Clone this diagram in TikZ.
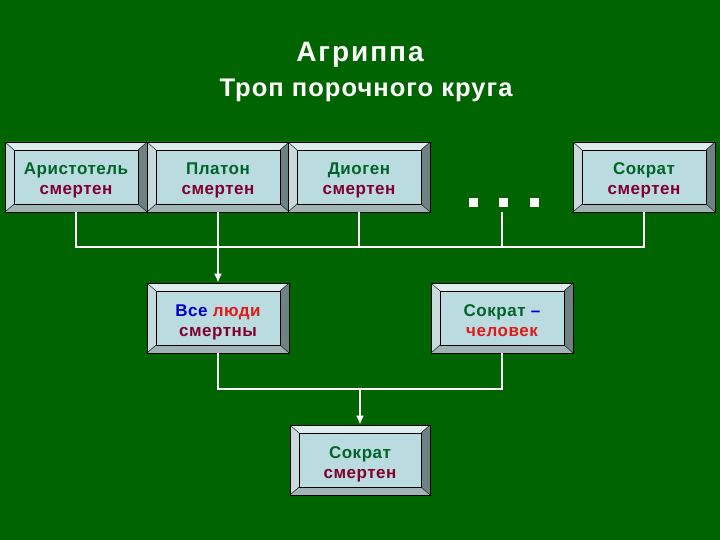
\documentclass[tikz,border=0pt]{standalone}
\usepackage{fontspec}
\setmainfont{Liberation Sans}
\usepackage{tikz}
\usetikzlibrary{arrows.meta}

\definecolor{bgreen}{RGB}{0,100,0}
\definecolor{namegreen}{RGB}{0,100,40}
\definecolor{mortal}{RGB}{128,0,48}
\definecolor{allblue}{RGB}{0,0,200}
\definecolor{peoplered}{RGB}{225,25,25}
\definecolor{faceinner}{RGB}{186,220,224}
\definecolor{facetop}{RGB}{222,236,238}
\definecolor{faceleft}{RGB}{200,218,220}
\definecolor{faceright}{RGB}{110,130,132}
\definecolor{facebottom}{RGB}{160,180,182}

% two lines of a box, with fixed top and bottom
\newcommand{\twolines}[2]{\rule{0pt}{20pt}#1\\#2\rule[-4pt]{0pt}{4pt}}

\tikzset{
    bevelbox/.style={draw=black, line width=0.7pt, fill=faceinner,
        minimum width=142pt, minimum height=70pt, inner sep=0pt,
        align=center, font=\bfseries\fontsize{17}{20}\selectfont\addfontfeatures{LetterSpace=3},
        path picture={
            \coordinate (nw) at (path picture bounding box.north west);
            \coordinate (ne) at (path picture bounding box.north east);
            \coordinate (sw) at (path picture bounding box.south west);
            \coordinate (se) at (path picture bounding box.south east);
            \coordinate (inw) at ([shift={(9pt,-8pt)}]nw);
            \coordinate (ine) at ([shift={(-9pt,-8pt)}]ne);
            \coordinate (isw) at ([shift={(9pt,8pt)}]sw);
            \coordinate (ise) at ([shift={(-9pt,8pt)}]se);
            \fill[facetop] (nw) -- (ne) -- (ine) -- (inw) -- cycle;
            \fill[faceleft] (nw) -- (inw) -- (isw) -- (sw) -- cycle;
            \fill[faceright] (ne) -- (se) -- (ise) -- (ine) -- cycle;
            \fill[facebottom] (sw) -- (isw) -- (ise) -- (se) -- cycle;
            \draw[black, line width=0.6pt] (inw) rectangle (ise);
            \draw[black, line width=0.4pt] (nw) -- (inw) (ne) -- (ine) (sw) -- (isw) (se) -- (ise);
        }},
    wire/.style={draw=white, line width=2.8pt},
    dotsq/.style={fill=white, minimum size=9pt, inner sep=0pt},
}

\begin{document}
\begin{tikzpicture}[x=1pt, y=-1pt]

        \fill[bgreen] (0,0) rectangle (720,540);
        \useasboundingbox (0,0) rectangle (720,540);

        % title
        \node[anchor=base, text=white, font=\bfseries\fontsize{28}{30}\selectfont\addfontfeatures{LetterSpace=7}] (title) at (360,61.5) {Агриппа};
        \node[anchor=base, text=white, font=\bfseries\fontsize{25.5}{28}\selectfont\addfontfeatures{LetterSpace=4}] (subtitle) at (366,96.5) {Троп порочного круга};

        % premises
        \node[bevelbox] (ari) at (76,177) {\twolines{\textcolor{namegreen}{Аристотель}}{\textcolor{mortal}{смертен}}};
        \node[bevelbox] (pla) at (218,177) {\twolines{\textcolor{namegreen}{Платон}}{\textcolor{mortal}{смертен}}};
        \node[bevelbox] (dio) at (359,177) {\twolines{\textcolor{namegreen}{Диоген}}{\textcolor{mortal}{смертен}}};
        \node[bevelbox] (sok) at (644,177) {\twolines{\textcolor{namegreen}{Сократ}}{\textcolor{mortal}{смертен}}};

        \node[dotsq] (d1) at (473,203) {};
        \node[dotsq] (d2) at (503,203) {};
        \node[dotsq] (d3) at (534,203) {};
        \coordinate (dtop) at (502,212);

        % inferences
        \node[bevelbox] (all) at (218,318) {\twolines{\textcolor{allblue}{Все} \textcolor{peoplered}{люди}}{\textcolor{mortal}{смертны}}};
        \node[bevelbox] (man) at (502,318) {\twolines{\textcolor{namegreen}{Сократ} \textcolor{allblue}{--}}{\textcolor{peoplered}{человек}}};
        \node[bevelbox, minimum width=140pt] (res) at (360,460) {\twolines{\textcolor{namegreen}{Сократ}}{\textcolor{mortal}{смертен}}};

        % connectors
        \coordinate (bus) at (0,247);
        \coordinate (bus2) at (0,389);
        \draw[wire] (ari.south) |- (sok.south |- bus) -- (sok.south);
        \draw[wire] (dio.south) -- (dio.south |- bus);
        \draw[wire] (dtop) -- (dtop |- bus);
        \draw[wire, -{Latex[length=9pt,width=8pt]}] (pla.south) -- (all.north);

        \draw[wire] (all.south) |- (man.south |- bus2) -- (man.south);
        \draw[wire, -{Latex[length=9pt,width=8pt]}] (res.north |- bus2) -- (res.north);

    \end{tikzpicture}
\end{document}
